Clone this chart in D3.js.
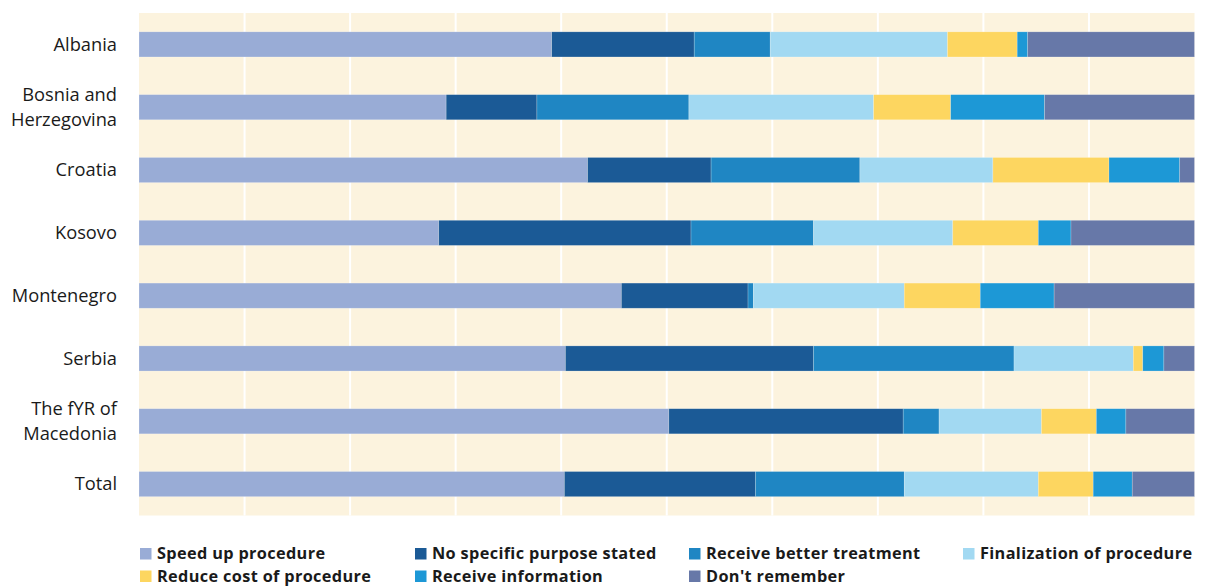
<!DOCTYPE html>
<html><head><meta charset="utf-8">
<script src="https://cdn.jsdelivr.net/npm/d3@7"></script>
<style>body{margin:0;background:#fff;} svg{display:block;font-family:"Open Sans",Lato,sans-serif;}</style>
</head><body><svg id="c" width="1209" height="587"></svg>
<script>
const categories = ["Albania","Bosnia and\nHerzegovina","Croatia","Kosovo","Montenegro","Serbia","The fYR of\nMacedonia","Total"];
const seriesNames = ["Speed up procedure","No specific purpose stated","Receive better treatment","Finalization of procedure","Reduce cost of procedure","Receive information","Don't remember"];
const speedUp      = [39.1, 29.1, 42.5, 28.4, 45.7, 40.4, 50.2, 40.3];
const noPurpose    = [13.5,  8.6, 11.7, 23.9, 12.0, 23.5, 22.2, 18.1];
const betterTreat  = [ 7.2, 14.4, 14.1, 11.6,  0.5, 19.0,  3.4, 14.1];
const finalization = [16.8, 17.5, 12.6, 13.2, 14.3, 11.3,  9.7, 12.7];
const reduceCost   = [ 6.6,  7.3, 11.0,  8.1,  7.2,  0.9,  5.2,  5.2];
const receiveInfo  = [ 1.0,  8.9,  6.7,  3.1,  7.0,  2.0,  2.8,  3.7];
const dontRemember = [15.8, 14.2,  1.4, 11.7, 13.3,  2.9,  6.5,  5.9];
const xTicks = [0,10,20,30,40,50,60,70,80,90,100];
const colors = ["#99ACD6","#1B5A96","#1F86C3","#A2D9F2","#FDD660","#1D98D6","#6778A8"];

const seriesValues = [speedUp,noPurpose,betterTreat,finalization,reduceCost,receiveInfo,dontRemember];
const rows = categories.map((c,i)=>{const r={cat:c}; seriesNames.forEach((s,j)=>r[s]=seriesValues[j][i]); return r;});
const stack = d3.stack().keys(seriesNames)(rows);

const svg = d3.select("#c");
const L=139, R=1194.5, T=13, B=515.5;
const x = d3.scaleLinear().domain([0,100]).range([L,R]).clamp(true);
const y = d3.scaleBand().domain(categories).range([T,B]).paddingInner(0.6).paddingOuter(0.3);
const color = d3.scaleOrdinal().domain(seriesNames).range(colors);

svg.append("rect").attr("x",L).attr("y",T).attr("width",R-L).attr("height",B-T).attr("fill","#FCF3DE");
svg.append("g").selectAll("line").data(xTicks.slice(1,-1)).join("line")
  .attr("x1",d=>x(d)).attr("x2",d=>x(d)).attr("y1",T).attr("y2",B)
  .attr("stroke","#fff").attr("stroke-width",2);

svg.append("g").selectAll("g").data(stack).join("g").attr("fill",d=>color(d.key))
  .selectAll("rect").data(d=>d).join("rect")
  .attr("x",d=>x(d[0])).attr("width",d=>Math.max(0,x(d[1])-x(d[0])))
  .attr("y",d=>y(d.data.cat)).attr("height",y.bandwidth())
  .attr("stroke","rgba(255,255,255,0.35)").attr("stroke-width",0.6);

const lab = svg.append("g").attr("font-size",18.3).attr("fill","#1a1a1a").attr("text-anchor","end");
categories.forEach(c=>{
  const lines=c.split("\n"); const cy=y(c)+y.bandwidth()/2;
  const t=lab.append("text").attr("x",117);
  lines.forEach((ln,i)=>{
    t.append("tspan").attr("x",117).attr("y",cy+(i-(lines.length-1)/2)*25.6).attr("dy","0.35em").text(ln);
  });
});

const legendPos=[[140,553.5],[415,553.5],[689,553.5],[963,553.5],[140,576],[415,576],[689,576]];
const lg=svg.append("g").attr("font-size",16.3).attr("letter-spacing","0.35px").attr("font-weight","bold").attr("fill","#1a1a1a");
seriesNames.forEach((s,i)=>{
  const [lx,ly]=legendPos[i];
  lg.append("rect").attr("x",lx).attr("y",ly-5.5).attr("width",11.5).attr("height",11.5).attr("fill",color(s));
  lg.append("text").attr("x",lx+17).attr("y",ly).attr("dy","0.35em").text(s);
});
</script></body></html>
